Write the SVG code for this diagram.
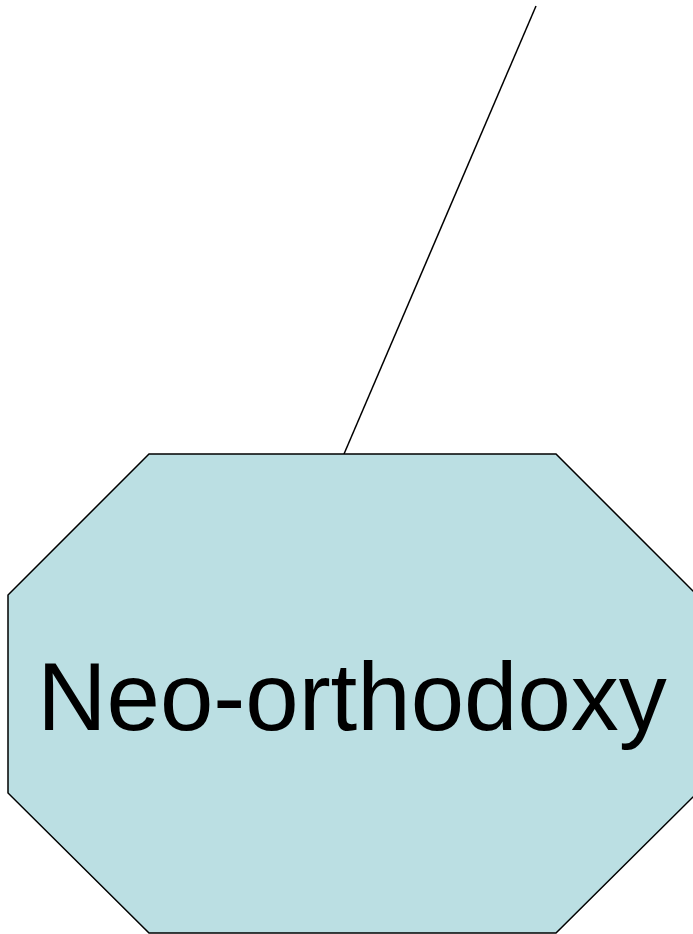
<svg xmlns="http://www.w3.org/2000/svg" width="693" height="934" viewBox="0 0 693 934">
<style>
.node{fill:#BBDFE3;stroke:#000;stroke-width:1.5}
.lbl{font-family:"Liberation Sans",Arial,sans-serif;font-size:96px;fill:#000;text-anchor:middle}
.conn{stroke:#000;stroke-width:1.5;fill:none}
</style>
<rect width="693" height="934" fill="#fff"/>
<g id="connectors">
<line class="conn" x1="536" y1="6" x2="344" y2="454"/>
</g>
<g id="neo-orthodoxy">
<polygon class="node" points="149,454 556,454 697,595 697,793 556,933 149,933 8,793 8,595"/>
<text class="lbl" x="352" y="730">Neo-orthodoxy</text>
</g>
</svg>
